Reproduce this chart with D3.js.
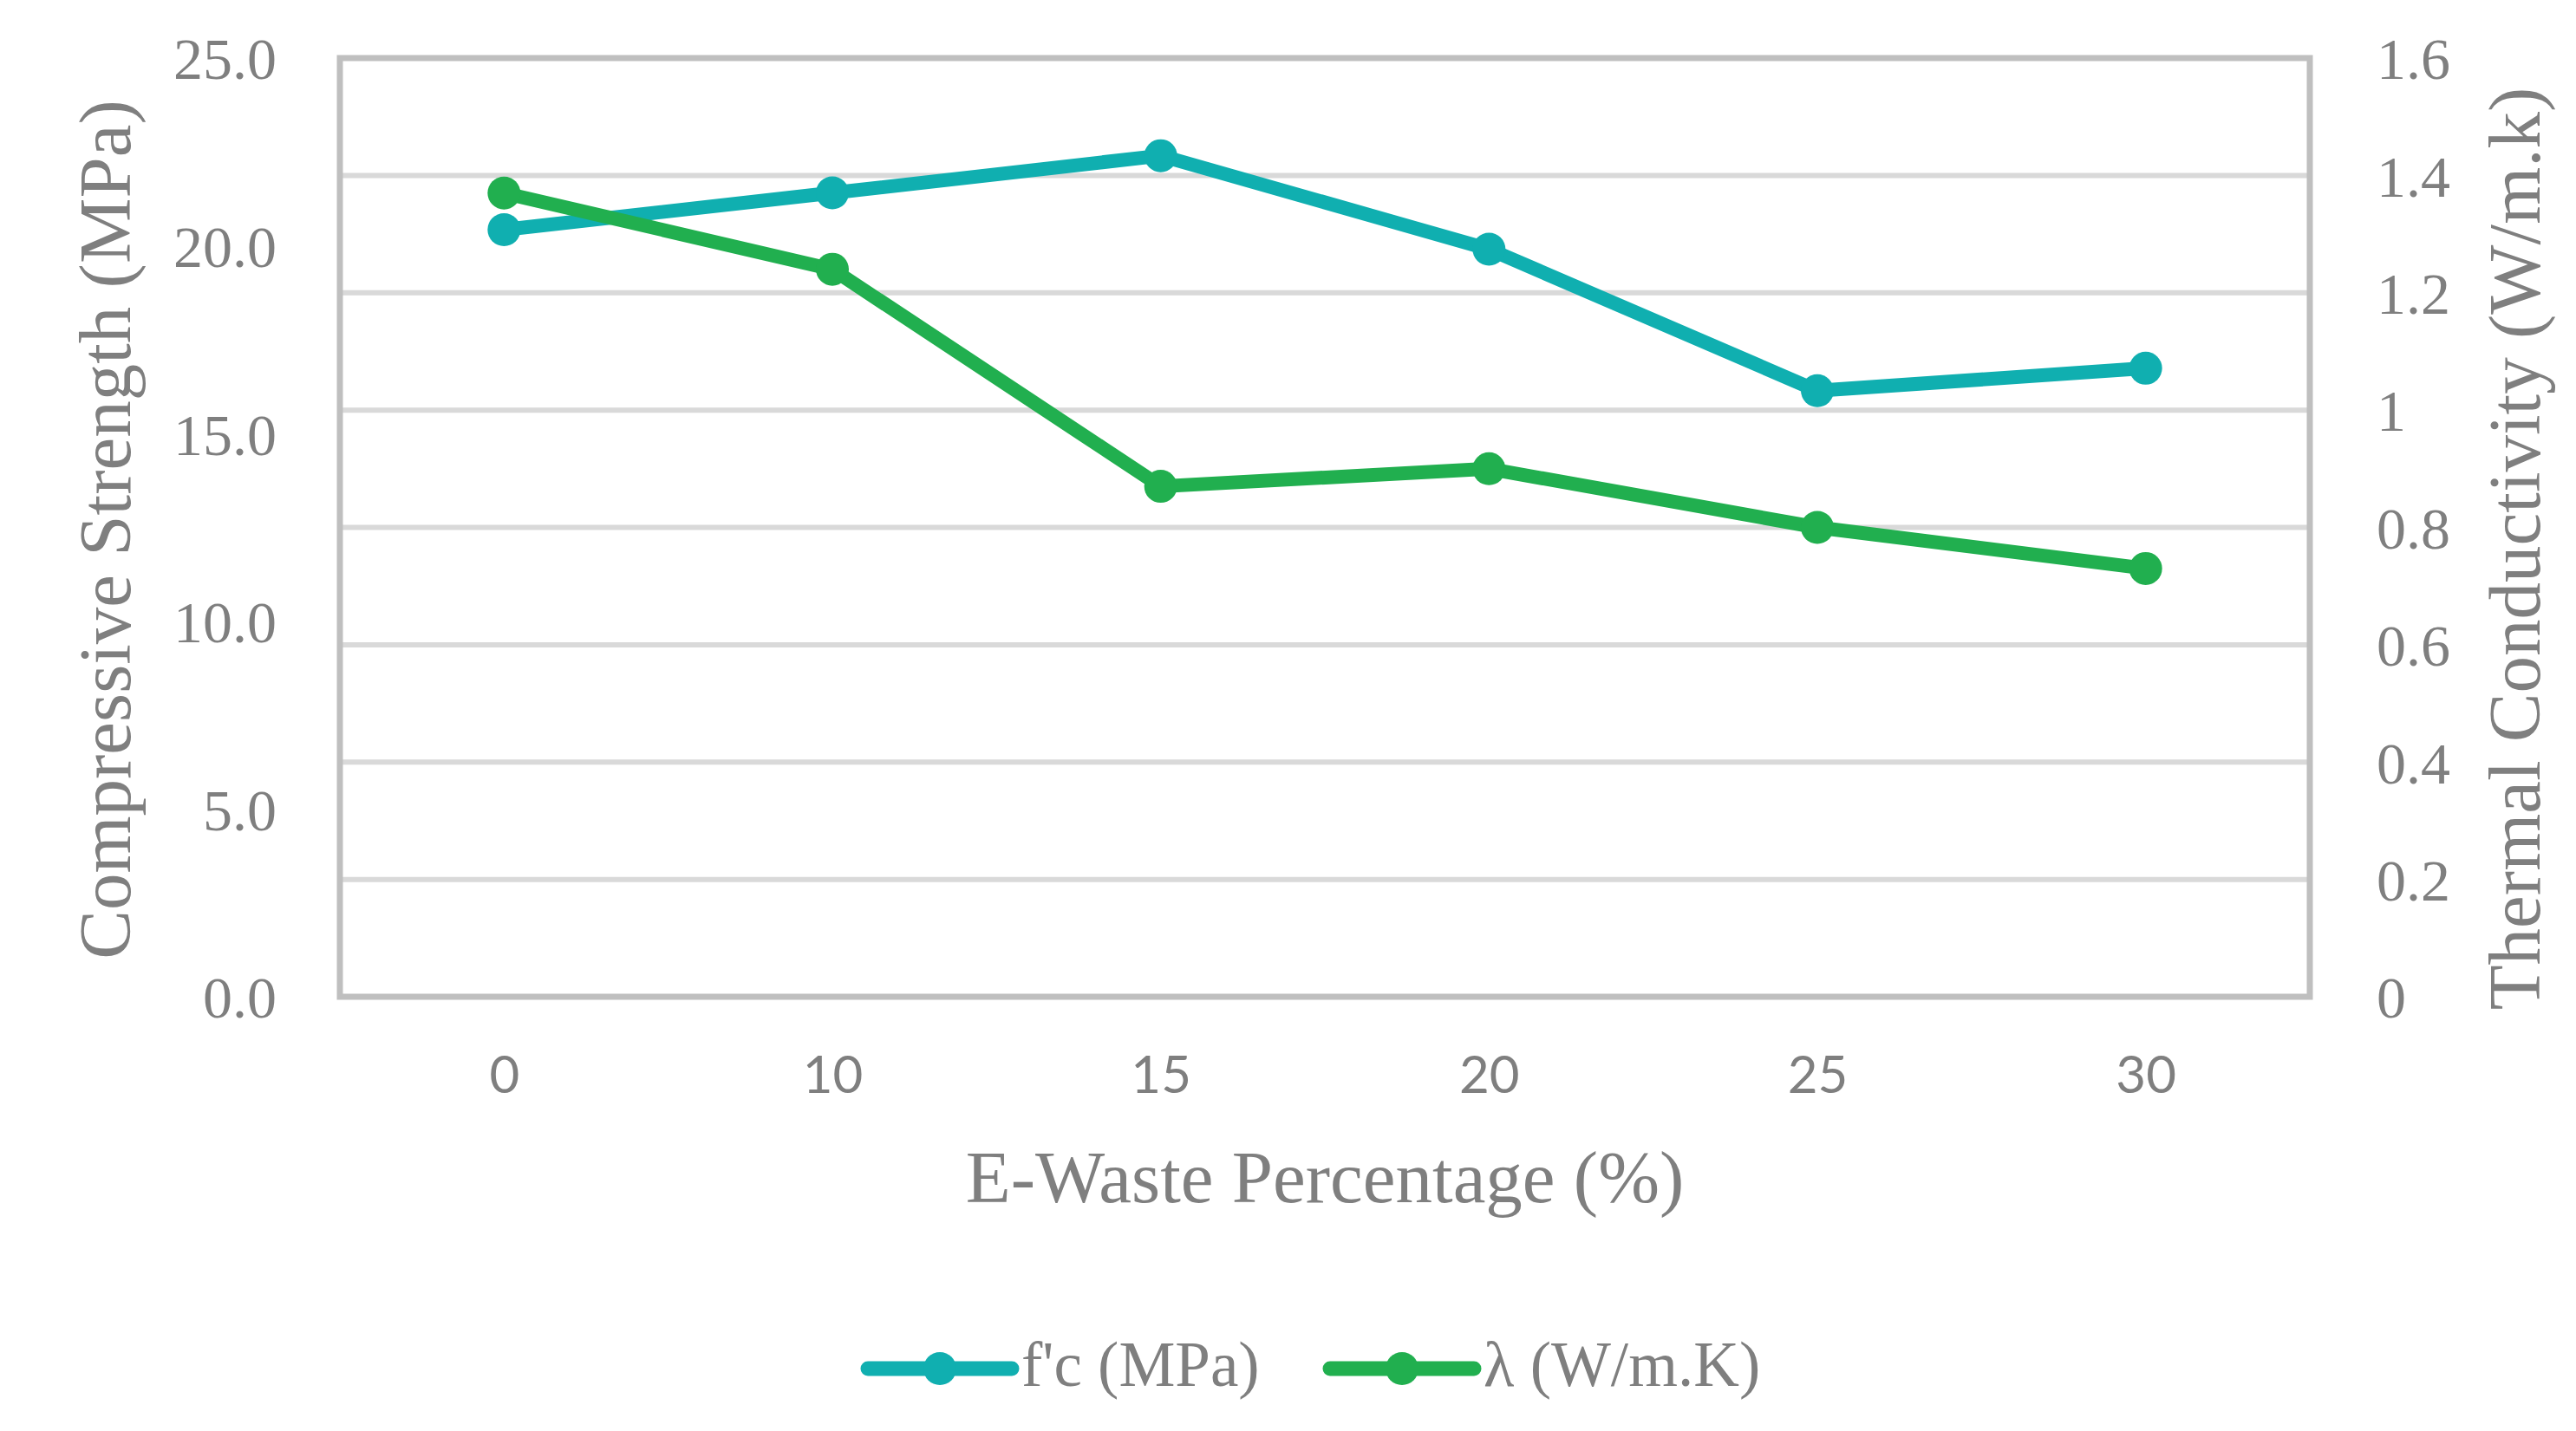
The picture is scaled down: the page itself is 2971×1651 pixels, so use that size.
<!DOCTYPE html>
<html>
<head>
<meta charset="utf-8">
<script src="https://cdn.jsdelivr.net/npm/d3@7"></script>
<style>
  body { margin: 0; background: #fff; }
  text { fill: #7f7f7f; }
</style>
</head>
<body>
<script>
var categories = ["0", "10", "15", "20", "25", "30"];
var strength = [20.43, 21.41, 22.40, 19.91, 16.14, 16.74];       // f'c (MPa)
var conductivity = [1.370, 1.240, 0.870, 0.900, 0.800, 0.730];   // lambda (W/m.K)
var leftTicks = [0, 5, 10, 15, 20, 25];
var rightTicks = [0, 0.2, 0.4, 0.6, 0.8, 1, 1.2, 1.4, 1.6];
var seriesNames = ["f'c (MPa)", "\u03bb (W/m.K)"];
var colors = ["#10afb0", "#21af4f"];

var W = 2971, H = 1651;
// plot area edges (note: "top" is reserved on window, so use p* names)
var pLeft = 392, pRight = 2664, pTop = 67, pBottom = 1150;
var SERIF = "'Liberation Serif', 'Times New Roman', serif";

var svg = d3.select("body").append("svg")
  .attr("width", W)
  .attr("height", H);

var x = d3.scalePoint().domain(categories).range([pLeft, pRight]).padding(0.5);
var yL = d3.scaleLinear().domain([0, 25]).range([pBottom, pTop]);
var yR = d3.scaleLinear().domain([0, 1.6]).range([pBottom, pTop]);

// horizontal gridlines follow the right axis
svg.append("g").selectAll("line")
  .data(rightTicks.filter(function(d) { return d > 0 && d < 1.6; }))
  .enter().append("line")
    .attr("x1", pLeft).attr("x2", pRight)
    .attr("y1", function(d) { return yR(d); })
    .attr("y2", function(d) { return yR(d); })
    .attr("stroke", "#d9d9d9")
    .attr("stroke-width", 6);

// plot frame
svg.append("rect")
  .attr("x", pLeft).attr("y", pTop)
  .attr("width", pRight - pLeft).attr("height", pBottom - pTop)
  .attr("fill", "none")
  .attr("stroke", "#bfbfbf")
  .attr("stroke-width", 7);

// left axis labels
var gL = svg.append("g")
  .attr("transform", "translate(" + pLeft + ",0)")
  .call(d3.axisLeft(yL).tickValues(leftTicks).tickSize(0).tickPadding(73)
    .tickFormat(d3.format(".1f")));
gL.select(".domain").remove();
gL.selectAll("text")
  .attr("font-family", SERIF).attr("font-size", 68).attr("dy", "0.35em");

// right axis labels
var gR = svg.append("g")
  .attr("transform", "translate(" + pRight + ",0)")
  .call(d3.axisRight(yR).tickValues(rightTicks).tickSize(0).tickPadding(77)
    .tickFormat(function(d) { return String(d); }));
gR.select(".domain").remove();
gR.selectAll("text")
  .attr("font-family", SERIF).attr("font-size", 68).attr("dy", "0.35em");

// bottom axis labels
var gB = svg.append("g")
  .attr("transform", "translate(0," + pBottom + ")")
  .call(d3.axisBottom(x).tickSize(0));
gB.select(".domain").remove();
gB.selectAll("text")
  .attr("font-family", "Lato, 'Open Sans', sans-serif")
  .attr("font-size", 60)
  .attr("y", 90)
  .attr("dy", "0.35em");

// axis titles
svg.append("text")
  .attr("transform", "translate(150,611) rotate(-90)")
  .attr("text-anchor", "middle")
  .attr("font-family", SERIF).attr("font-size", 85)
  .text("Compressive Strength (MPa)");

svg.append("text")
  .attr("transform", "translate(2929,633) rotate(-90)")
  .attr("text-anchor", "middle")
  .attr("font-family", SERIF).attr("font-size", 85)
  .text("Thermal Conductivity (W/m.k)");

svg.append("text")
  .attr("x", (pLeft + pRight) / 2).attr("y", 1387)
  .attr("text-anchor", "middle")
  .attr("font-family", SERIF).attr("font-size", 85)
  .text("E-Waste Percentage (%)");

// series
var series = [
  { name: seriesNames[0], values: strength, y: yL, color: colors[0] },
  { name: seriesNames[1], values: conductivity, y: yR, color: colors[1] }
];

series.forEach(function(s) {
  var line = d3.line()
    .x(function(d, i) { return x(categories[i]); })
    .y(function(d) { return s.y(d); });

  svg.append("path")
    .datum(s.values)
    .attr("d", line)
    .attr("fill", "none")
    .attr("stroke", s.color)
    .attr("stroke-width", 16)
    .attr("stroke-linejoin", "round");

  svg.append("g").selectAll("circle")
    .data(s.values)
    .enter().append("circle")
      .attr("cx", function(d, i) { return x(categories[i]); })
      .attr("cy", function(d) { return s.y(d); })
      .attr("r", 19)
      .attr("fill", s.color);
});

// legend
var legendY = 1579;
var legendX = [1001, 1534];
series.forEach(function(s, i) {
  var g = svg.append("g").attr("transform", "translate(" + legendX[i] + "," + legendY + ")");
  g.append("line")
    .attr("x1", 0).attr("x2", 166)
    .attr("stroke", s.color)
    .attr("stroke-width", 17)
    .attr("stroke-linecap", "round");
  g.append("circle")
    .attr("cx", 83).attr("r", 19)
    .attr("fill", s.color);
  g.append("text")
    .attr("x", 177).attr("y", 20)
    .attr("font-family", SERIF).attr("font-size", 73)
    .text(s.name);
});
</script>
</body>
</html>
